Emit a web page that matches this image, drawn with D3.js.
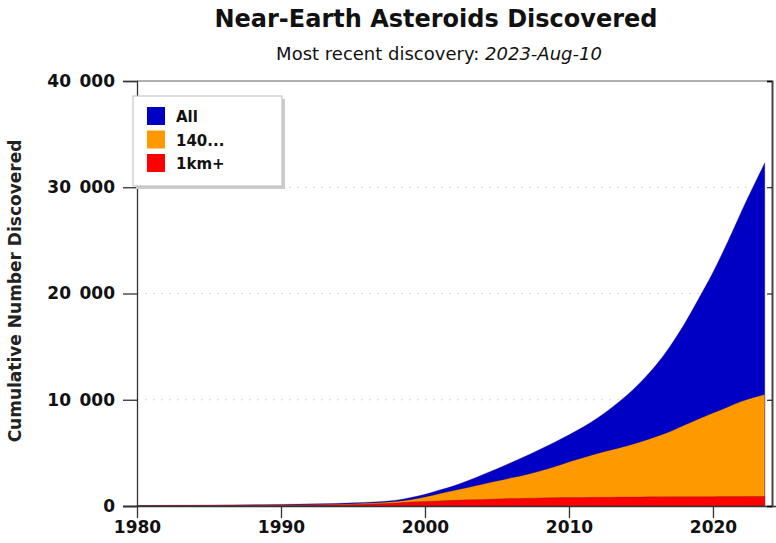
<!DOCTYPE html>
<html>
<head>
<meta charset="utf-8">
<script src="https://cdn.jsdelivr.net/npm/d3@7"></script>
<style>
  body { margin: 0; background: #fff; }
  svg { display: block; }
</style>
</head>
<body>
<svg id="chart" width="776" height="543"></svg>
<script>
// cumulative discoveries
let years    = [1980, 1985, 1990, 1995, 1998, 1999, 2000, 2001, 2002, 2003, 2004, 2005, 2006, 2007, 2008, 2009, 2010, 2011, 2012, 2013, 2014, 2015, 2016, 2017, 2018, 2019, 2020, 2021, 2022, 2023.6]
let allNea   = [50, 80, 150, 300, 550, 800, 1100, 1500, 1900, 2400, 2950, 3500, 4100, 4700, 5350, 6000, 6700, 7450, 8300, 9300, 10400, 11700, 13200, 15000, 17100, 19500, 22000, 24800, 27800, 32300]
let big140   = [40, 60, 110, 220, 420, 600, 850, 1150, 1450, 1750, 2050, 2350, 2650, 2950, 3300, 3700, 4150, 4550, 4950, 5300, 5650, 6050, 6500, 7000, 7600, 8200, 8750, 9300, 9850, 10500]
let km1      = [30, 45, 80, 150, 280, 370, 430, 480, 530, 580, 620, 660, 700, 730, 760, 780, 800, 810, 820, 830, 840, 850, 860, 865, 870, 875, 880, 885, 890, 895]
let yTicks   = [0, 10000, 20000, 30000, 40000]
let xTicks   = [1980, 1990, 2000, 2010, 2020]
let legendNames = ['All', '140...', '1km+']
let colors   = ['#0000c4', '#ff9900', '#ff0000']

let svg = d3.select('#chart')

let x = d3.scaleLinear().domain([1980, 2024.1]).range([137, 772])
let y = d3.scaleLinear().domain([0, 40000]).range([506, 81])

let fmt = (d) => d3.format(',')(d).replace(/,/g, '\u2002')

// titles
svg.append('text')
    .attr('x', 436).attr('y', 27)
    .attr('text-anchor', 'middle')
    .style('font-family', 'DejaVu Sans')
    .style('font-weight', 'bold')
    .style('font-size', '24px')
    .style('fill', '#111')
    .text('Near-Earth Asteroids Discovered')

let sub = svg.append('text')
    .attr('x', 439).attr('y', 60)
    .attr('text-anchor', 'middle')
    .style('font-family', 'DejaVu Sans')
    .style('font-size', '18px')
    .style('fill', '#111')
sub.append('tspan').text('Most recent discovery: ')
sub.append('tspan').style('font-style', 'italic').text('2023-Aug-10')

// grid
svg.append('g')
    .selectAll('line')
    .data(yTicks.slice(1, 4))
    .enter()
    .append('line')
    .attr('x1', 137).attr('x2', 772)
    .attr('y1', (d) => y(d)).attr('y2', (d) => y(d))
    .style('stroke', '#d8d8d8')
    .style('stroke-dasharray', '2,6')

svg.append('line')
    .attr('x1', 137).attr('x2', 772)
    .attr('y1', y(40000)).attr('y2', y(40000))
    .style('stroke', '#b0b0b0')
    .style('stroke-width', 2)

// areas
let series = [allNea, big140, km1]
let area = (vals) => d3.area()
    .curve(d3.curveMonotoneX)
    .x((d, i) => x(years[i]))
    .y0(y(0))
    .y1((d) => y(d))(vals)

svg.append('g')
    .selectAll('path')
    .data(series)
    .enter()
    .append('path')
    .attr('d', (d) => area(d))
    .style('fill', (d, i) => colors[i])
    .style('stroke', '#3a2050')
    .style('stroke-width', 0.6)
    .style('stroke-opacity', 0.5)

// axes
let yAxis = svg.append('g')
    .attr('transform', 'translate(137,0)')
    .call(d3.axisLeft(y).tickValues(yTicks).tickSize(14).tickPadding(8).tickFormat(fmt))
let xAxis = svg.append('g')
    .attr('transform', 'translate(0,506)')
    .call(d3.axisBottom(x).tickValues(xTicks).tickSize(12).tickPadding(3).tickFormat(d3.format('d')))
xAxis.select('.domain').attr('d', 'M123,0.5H776')

let rightAxis = svg.append('g')
    .attr('transform', 'translate(772,0)')
    .call(d3.axisLeft(y).tickValues(yTicks).tickSize(5).tickFormat(''))
rightAxis.select('.domain').style('stroke', '#444').style('stroke-width', 2)

;[yAxis, xAxis].forEach((g) => {
    g.selectAll('text')
        .style('font-family', 'DejaVu Sans')
        .style('font-weight', 'bold')
        .style('font-size', '17px')
        .style('fill', '#111')
    g.selectAll('line, .domain').style('stroke', '#333').style('stroke-width', 1.3)
})

// y label
svg.append('text')
    .attr('transform', 'translate(21,291) rotate(-90)')
    .attr('text-anchor', 'middle')
    .style('font-family', 'DejaVu Sans')
    .style('font-weight', 'bold')
    .style('font-size', '17px')
    .style('fill', '#222')
    .text('Cumulative Number Discovered')

// legend
let legend = svg.append('g').attr('transform', 'translate(133,96)')
legend.append('rect')
    .attr('x', 3).attr('y', 3).attr('width', 149).attr('height', 90)
    .style('fill', '#ccc')
legend.append('rect')
    .attr('width', 149).attr('height', 90)
    .style('fill', '#fff')
    .style('stroke', '#bbb')
let rows = legend.selectAll('.row')
    .data(legendNames)
    .enter()
    .append('g')
    .attr('transform', (d, i) => 'translate(14,' + (11 + i * 23.5) + ')')
rows.append('rect')
    .attr('width', 18).attr('height', 18)
    .style('fill', (d, i) => colors[i])
rows.append('text')
    .attr('x', 29).attr('y', 15)
    .style('font-family', 'DejaVu Sans')
    .style('font-weight', 'bold')
    .style('font-size', '15px')
    .style('fill', '#111')
    .text((d) => d)
</script>
</body>
</html>
